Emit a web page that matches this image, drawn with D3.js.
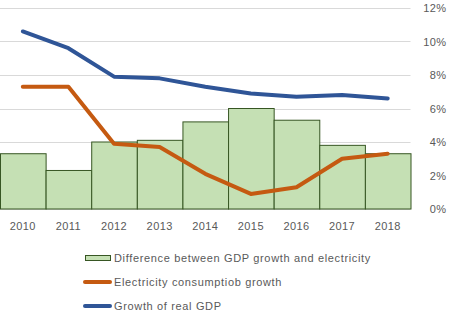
<!DOCTYPE html>
<html lang="en">
<head>
  <meta charset="UTF-8">
  <title>GDP growth vs electricity consumption</title>
  <script src="https://d3js.org/d3.v7.min.js"></script>
  <style>
    body { margin: 0; background: #fff; }
    svg { display: block; font-family: "Liberation Sans", Arial, sans-serif; }
    .tick text, .legend text { fill: #595959; font-size: 11px; letter-spacing: 0.4px; }
    .legend text { letter-spacing: 0.65px; }
    .grid line { stroke: #d9d9d9; stroke-width: 1; }
  </style>
</head>
<body>
  <svg width="452" height="322"></svg>
  <script>
    const years = ["2010", "2011", "2012", "2013", "2014", "2015", "2016", "2017", "2018"];
    const gdpGrowth = [10.6, 9.6, 7.9, 7.8, 7.3, 6.9, 6.7, 6.8, 6.6];
    const elecGrowth = [7.3, 7.3, 3.9, 3.7, 2.1, 0.9, 1.3, 3.0, 3.3];
    const difference = [3.3, 2.3, 4.0, 4.1, 5.2, 6.0, 5.3, 3.8, 3.3];
    const yTicks = [0, 2, 4, 6, 8, 10, 12];

    const svg = d3.select("svg");
    const plotLeft = 0, plotRight = 410.5, plotTop = 8, plotBottom = 209;

    const x = d3.scaleBand().domain(years).range([plotLeft, plotRight]).padding(0);
    const y = d3.scaleLinear().domain([0, 12]).range([plotBottom, plotTop]);

    // horizontal gridlines
    svg.append("g").attr("class", "grid")
      .selectAll("line").data(yTicks).join("line")
      .attr("x1", plotLeft).attr("x2", plotRight)
      .attr("y1", d => Math.round(y(d)) + 0.5).attr("y2", d => Math.round(y(d)) + 0.5);

    // right-hand percentage axis
    svg.append("g")
      .attr("transform", `translate(${plotRight},0)`)
      .call(d3.axisRight(y).tickValues(yTicks).tickSize(0).tickPadding(36).tickFormat(d => d + "%"))
      .call(g => g.select(".domain").remove())
      .call(g => g.selectAll("text").attr("text-anchor", "end"));

    // year labels
    svg.append("g")
      .attr("transform", `translate(0,${plotBottom})`)
      .call(d3.axisBottom(x).tickSize(0).tickPadding(13))
      .call(g => g.select(".domain").remove());

    // bars
    svg.append("g")
      .selectAll("rect").data(years).join("rect")
      .attr("x", d => x(d) + 0.5)
      .attr("y", (d, i) => y(difference[i]))
      .attr("width", x.bandwidth())
      .attr("height", (d, i) => y(0) - y(difference[i]))
      .attr("fill", "#c5e0b4")
      .attr("stroke", "#375623")
      .attr("stroke-width", 1);

    const line = d3.line()
      .x((d, i) => x(years[i]) + x.bandwidth() / 2)
      .y(d => y(d));

    svg.append("path").datum(elecGrowth)
      .attr("d", line).attr("fill", "none")
      .attr("stroke", "#c55a11").attr("stroke-width", 4)
      .attr("stroke-linejoin", "round").attr("stroke-linecap", "round");

    svg.append("path").datum(gdpGrowth)
      .attr("d", line).attr("fill", "none")
      .attr("stroke", "#2f5597").attr("stroke-width", 4)
      .attr("stroke-linejoin", "round").attr("stroke-linecap", "round");

    // legend
    const legend = svg.append("g").attr("class", "legend");
    const items = [
      { label: "Difference between GDP growth and electricity", type: "bar", y: 258 },
      { label: "Electricity consumptiob growth", type: "line", color: "#c55a11", y: 282 },
      { label: "Growth of real GDP", type: "line", color: "#2f5597", y: 306 }
    ];
    items.forEach(it => {
      if (it.type === "bar") {
        legend.append("rect")
          .attr("x", 85.5).attr("y", it.y - 2.5).attr("width", 25).attr("height", 5)
          .attr("fill", "#c5e0b4").attr("stroke", "#375623");
      } else {
        legend.append("line")
          .attr("x1", 85).attr("x2", 110).attr("y1", it.y).attr("y2", it.y)
          .attr("stroke", it.color).attr("stroke-width", 4).attr("stroke-linecap", "round");
      }
      legend.append("text")
        .attr("x", 114).attr("y", it.y).attr("dy", "0.35em")
        .text(it.label);
    });
  </script>
</body>
</html>
